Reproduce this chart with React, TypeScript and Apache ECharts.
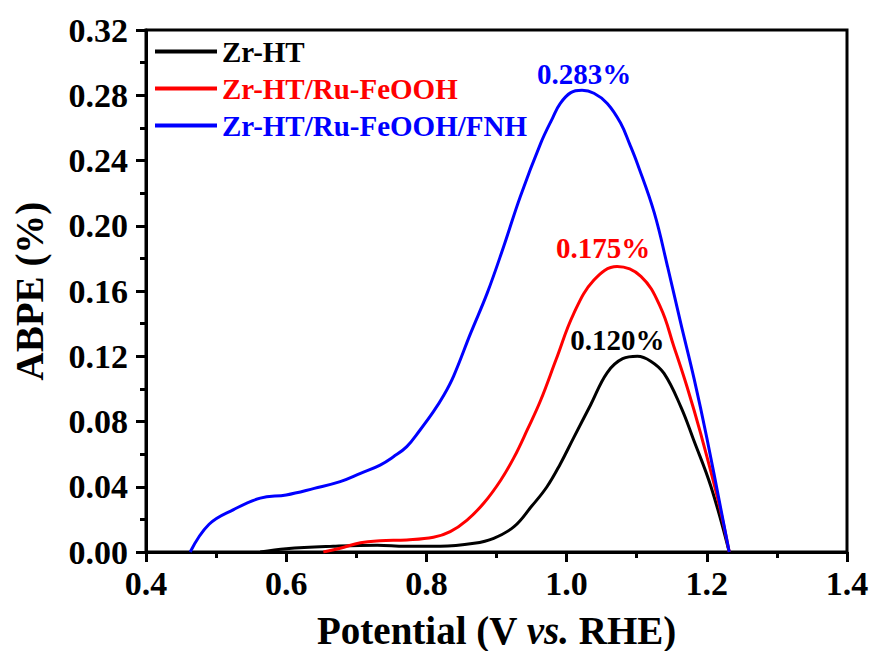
import React, { useEffect, useRef } from "react";
import * as echarts from "echarts";

const FONT = "'Liberation Serif', 'Times New Roman', serif";

const seriesNames = ["Zr-HT", "Zr-HT/Ru-FeOOH", "Zr-HT/Ru-FeOOH/FNH"];
const seriesColors = ["#000000", "#ff0000", "#0000ff"];

const blackX = [0.563, 0.6, 0.667, 0.73, 0.77, 0.82, 0.868, 0.896, 0.925, 0.95, 0.972, 0.991, 1.01, 1.034, 1.058, 1.08, 1.101, 1.12, 1.139, 1.163, 1.181, 1.206, 1.232];
const blackY = [0, 0.002, 0.0035, 0.0042, 0.0035, 0.0035, 0.0053, 0.0084, 0.0155, 0.028, 0.04, 0.054, 0.07, 0.09, 0.11, 0.1185, 0.12, 0.117, 0.1095, 0.089, 0.069, 0.04, 0];

const redX = [0.653, 0.677, 0.706, 0.734, 0.772, 0.81, 0.834, 0.858, 0.882, 0.906, 0.925, 0.944, 0.963, 0.985, 1.01, 1.039, 1.072, 1.106, 1.134, 1.153, 1.172, 1.191, 1.216, 1.232];
const redY = [0, 0.0023, 0.0057, 0.0069, 0.0074, 0.009, 0.0125, 0.0196, 0.03, 0.044, 0.058, 0.075, 0.093, 0.118, 0.146, 0.1667, 0.175, 0.169, 0.15, 0.126, 0.101, 0.073, 0.032, 0];

const blueX = [0.463, 0.49, 0.525, 0.563, 0.6, 0.64, 0.677, 0.706, 0.734, 0.753, 0.772, 0.791, 0.81, 0.825, 0.839, 0.863, 0.887, 0.91, 0.934, 0.963, 0.98, 0.991, 1.006, 1.022, 1.039, 1.058, 1.077, 1.09, 1.101, 1.125, 1.144, 1.163, 1.182, 1.2, 1.232];
const blueY = [0, 0.017, 0.026, 0.033, 0.035, 0.039, 0.0431, 0.0482, 0.0533, 0.0584, 0.0646, 0.0748, 0.086, 0.0962, 0.108, 0.134, 0.159, 0.187, 0.218, 0.2505, 0.266, 0.275, 0.2816, 0.283, 0.2812, 0.275, 0.263, 0.25, 0.238, 0.208, 0.175, 0.14, 0.106, 0.07, 0];

const peakX = [1.101, 1.072, 1.022];
const peakY = [0.12, 0.175, 0.283];
const peakLabels = ["0.120%", "0.175%", "0.283%"];
const peakOffsets = [[-20, 4], [-14, 2], [2, 4]];

const xTicks = { min: 0.4, max: 1.4, interval: 0.2 };
const yTicks = { min: 0, max: 0.32, interval: 0.04 };

function zip(xs: number[], ys: number[]) {
  return xs.map((x, i) => [x, ys[i]]);
}

export default function App() {
  const ref = useRef<HTMLDivElement>(null);
  useEffect(() => {
    document.body.style.margin = "0";
    const chart = echarts.init(ref.current!, null, { renderer: "svg" });
    const allData = [zip(blackX, blackY), zip(redX, redY), zip(blueX, blueY)];
    const series: any[] = allData.map((d, i) => ({
      name: seriesNames[i],
      type: "line",
      data: d,
      smooth: 0.4,
      showSymbol: false,
      symbol: "none",
      lineStyle: { color: seriesColors[i], width: 3 },
      itemStyle: { color: seriesColors[i] },
      markPoint: {
        symbol: "circle",
        symbolSize: 0,
        data: [
          {
            coord: [peakX[i], peakY[i]],
            value: peakLabels[i],
            label: {
              show: true,
              position: "top",
              distance: 6,
              offset: peakOffsets[i],
              formatter: peakLabels[i],
              color: seriesColors[i],
              fontFamily: FONT,
              fontWeight: "bold",
              fontSize: 29,
            },
          },
        ],
      },
    }));
    chart.setOption({
      animation: false,
      backgroundColor: "#ffffff",
      grid: {
        left: 146,
        right: 25,
        top: 30,
        bottom: 99,
        show: true,
        borderColor: "#000",
        borderWidth: 3,
        outerBoundsMode: "none",
      },
      legend: {
        orient: "vertical",
        left: 150,
        top: 32,
        itemWidth: 62,
        itemHeight: 4,
        itemGap: 8,
        icon: "rect",
        data: seriesNames.map((n, i) => ({
          name: n,
          itemStyle: { color: seriesColors[i] },
          textStyle: { color: seriesColors[i] },
        })),
        textStyle: {
          fontFamily: FONT,
          fontWeight: "bold",
          fontSize: 29,
          lineHeight: 29,
          padding: [0, 0, 0, 0],
        },
      },
      xAxis: {
        type: "value",
        min: xTicks.min,
        max: xTicks.max,
        interval: xTicks.interval,
        name: "{a|Potential (V }{b|vs.}{a| RHE)}",
        nameLocation: "middle",
        nameGap: 58,
        nameTextStyle: {
          rich: {
            a: { fontFamily: FONT, fontWeight: "bold", fontSize: 39, lineHeight: 40, color: "#000" },
            b: { fontFamily: FONT, fontWeight: "bold", fontStyle: "italic", fontSize: 39, lineHeight: 40, color: "#000" },
          },
        },
        axisLine: { lineStyle: { color: "#000", width: 3 } },
        axisTick: { show: true, inside: false, length: 10, lineStyle: { width: 3, color: "#000" } },
        minorTick: { show: true, splitNumber: 2, length: 6, lineStyle: { width: 3, color: "#000" } },
        splitLine: { show: false },
        axisLabel: {
          formatter: (v: number) => v.toFixed(1),
          fontFamily: FONT,
          fontWeight: "bold",
          fontSize: 34,
          color: "#000",
          margin: 14,
        },
      },
      yAxis: {
        type: "value",
        min: yTicks.min,
        max: yTicks.max,
        interval: yTicks.interval,
        name: "ABPE (%)",
        nameLocation: "middle",
        nameGap: 97,
        nameTextStyle: { fontFamily: FONT, fontWeight: "bold", fontSize: 39, color: "#000" },
        axisLine: { lineStyle: { color: "#000", width: 3 } },
        axisTick: { show: true, inside: false, length: 10, lineStyle: { width: 3, color: "#000" } },
        minorTick: { show: true, splitNumber: 2, length: 6, lineStyle: { width: 3, color: "#000" } },
        splitLine: { show: false },
        axisLabel: {
          formatter: (v: number) => v.toFixed(2),
          fontFamily: FONT,
          fontWeight: "bold",
          fontSize: 34,
          color: "#000",
          margin: 18,
        },
      },
      series,
    });
    return () => chart.dispose();
  }, []);
  return <div ref={ref} style={{ width: 872, height: 651 }} />;
}
